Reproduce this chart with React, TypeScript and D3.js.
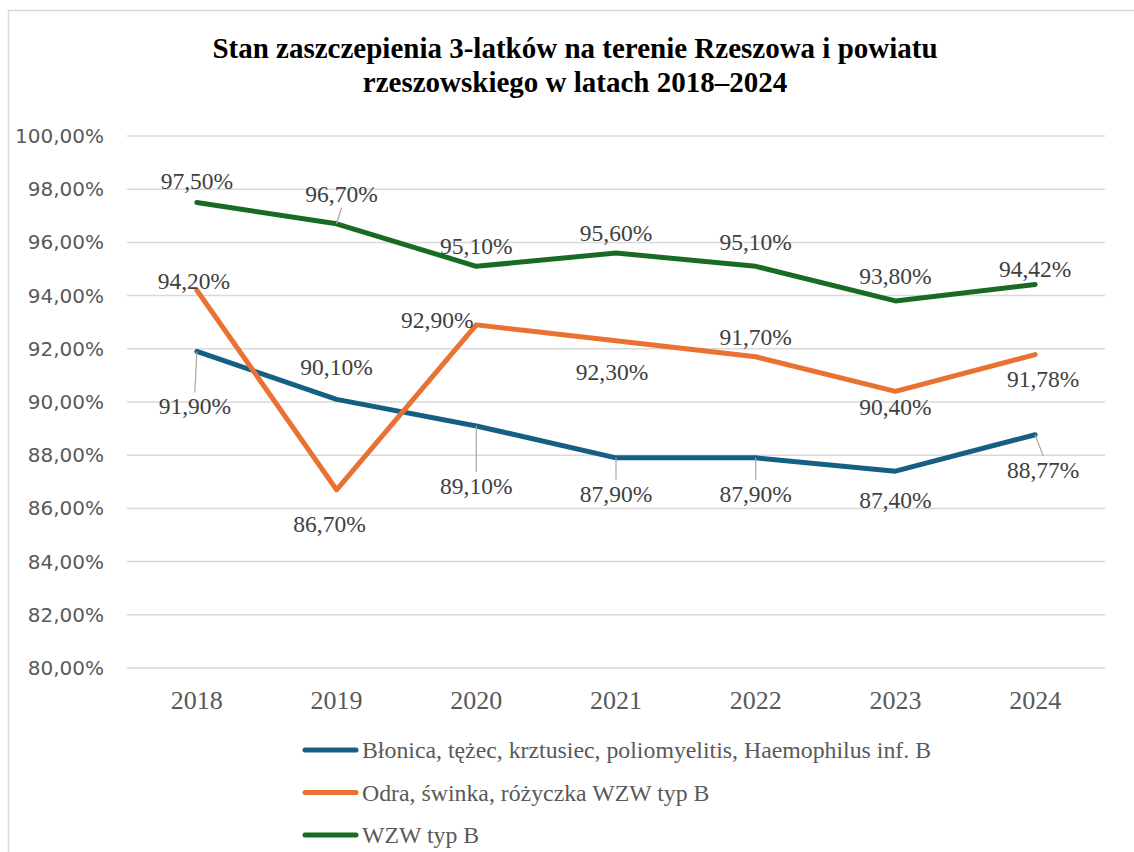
import React from "react";
import * as d3 from "d3";

const years = ["2018", "2019", "2020", "2021", "2022", "2023", "2024"];
const seriesNames = [
  "Błonica, tężec, krztusiec, poliomyelitis, Haemophilus inf. B",
  "Odra, świnka, różyczka WZW typ B",
  "WZW typ B",
];
const blonicaValues = [91.9, 90.1, 89.1, 87.9, 87.9, 87.4, 88.77];
const odraValues = [94.2, 86.7, 92.9, 92.3, 91.7, 90.4, 91.78];
const wzwValues = [97.5, 96.7, 95.1, 95.6, 95.1, 93.8, 94.42];
const yTicks = [80, 82, 84, 86, 88, 90, 92, 94, 96, 98, 100];
const title1 = "Stan zaszczepienia 3-latków na terenie Rzeszowa i powiatu";
const title2 = "rzeszowskiego w latach 2018–2024";

// label placement (offsets in px relative to the point), and leader flags
const blonicaLabelPos = [[-2, 55, 1], [0, -32, 0], [0, 60, 1], [0, 36, 1], [0, 36, 1], [0, 29, 0], [8, 35, 1]];
const odraLabelPos = [[-3, -9, 0], [-7, 34, 0], [-39, -5, 0], [-4, 31, 0], [0, -20, 0], [0, 16, 0], [8, 24, 0]];
const wzwLabelPos = [[0, -22, 0], [5, -30, 1], [0, -20, 0], [0, -20, 0], [0, -24, 0], [0, -25, 0], [0, -15, 0]];

const colors = ["#156082", "#E97132", "#196B24"];

const W = 1134;
const H = 852;

export default function App() {
  const x = d3.scaleBand<string>().domain(years).range([127, 1105]);
  const y = d3.scaleLinear().domain([80, 100]).range([668, 136]);
  const line = d3
    .line<number>()
    .x((_, i) => (x(years[i]) as number) + x.bandwidth() / 2)
    .y((d) => y(d));

  const series = [
    { name: seriesNames[0], values: blonicaValues, pos: blonicaLabelPos, color: colors[0] },
    { name: seriesNames[1], values: odraValues, pos: odraLabelPos, color: colors[1] },
    { name: seriesNames[2], values: wzwValues, pos: wzwLabelPos, color: colors[2] },
  ];

  const fmt = (v: number) => v.toFixed(2).replace(".", ",") + "%";
  const serif = { fontFamily: '"Liberation Serif", "Times New Roman", serif' };

  return (
    <svg
      width={W}
      height={H}
      style={{ position: "absolute", left: 0, top: 0, display: "block", background: "#fff" }}
    >
      <rect x={8.5} y={10.5} width={1300} height={1000} fill="#fff" stroke="#d9d9d9" strokeWidth={1.5} />
      <text x={575} y={58} textAnchor="middle" style={serif} fontWeight="bold" fontSize={29} fill="#000">
        {title1}
      </text>
      <text x={575} y={92} textAnchor="middle" style={serif} fontWeight="bold" fontSize={29} fill="#000">
        {title2}
      </text>

      {yTicks.map((t) => (
        <g key={t}>
          <line x1={127} x2={1105} y1={y(t)} y2={y(t)} stroke="#d9d9d9" strokeWidth={1.5} />
          <text
            x={104}
            y={y(t)}
            textAnchor="end"
            dominantBaseline="central"
            style={{ fontFamily: '"DejaVu Sans", sans-serif' }}
            fontSize={20}
            fill="#595959"
          >
            {t.toFixed(2).replace(".", ",") + "%"}
          </text>
        </g>
      ))}

      {years.map((yr) => (
        <text
          key={yr}
          x={(x(yr) as number) + x.bandwidth() / 2}
          y={700}
          textAnchor="middle"
          dominantBaseline="central"
          style={serif}
          fontSize={26}
          fill="#595959"
        >
          {yr}
        </text>
      ))}

      {series.map((s) => (
        <path
          key={s.name}
          d={line(s.values) || ""}
          fill="none"
          stroke={s.color}
          strokeWidth={5}
          strokeLinejoin="round"
          strokeLinecap="round"
        />
      ))}

      {series.map((s) =>
        s.values.map((v, i) => {
          const px = (x(years[i]) as number) + x.bandwidth() / 2;
          const py = y(v);
          const [dx, dy, leader] = s.pos[i];
          const lx = px + dx;
          const ly = py + dy;
          const edge = dy > 0 ? ly - 14 : ly + 14;
          return (
            <g key={s.name + i}>
              {leader ? (
                <line x1={px} y1={py} x2={lx} y2={edge} stroke="#a6a6a6" strokeWidth={1.2} />
              ) : null}
              <text
                x={lx}
                y={ly}
                textAnchor="middle"
                dominantBaseline="central"
                style={serif}
                fontSize={23.5}
                fill="#404040"
              >
                {fmt(v)}
              </text>
            </g>
          );
        })
      )}

      {series.map((s, i) => {
        const ly = 750 + i * 42.5;
        return (
          <g key={"leg" + i}>
            <line x1={305} x2={356} y1={ly} y2={ly} stroke={s.color} strokeWidth={5} strokeLinecap="round" />
            <text x={362} y={ly} dominantBaseline="central" style={serif} fontSize={23.8} fill="#595959">
              {s.name}
            </text>
          </g>
        );
      })}
    </svg>
  );
}
